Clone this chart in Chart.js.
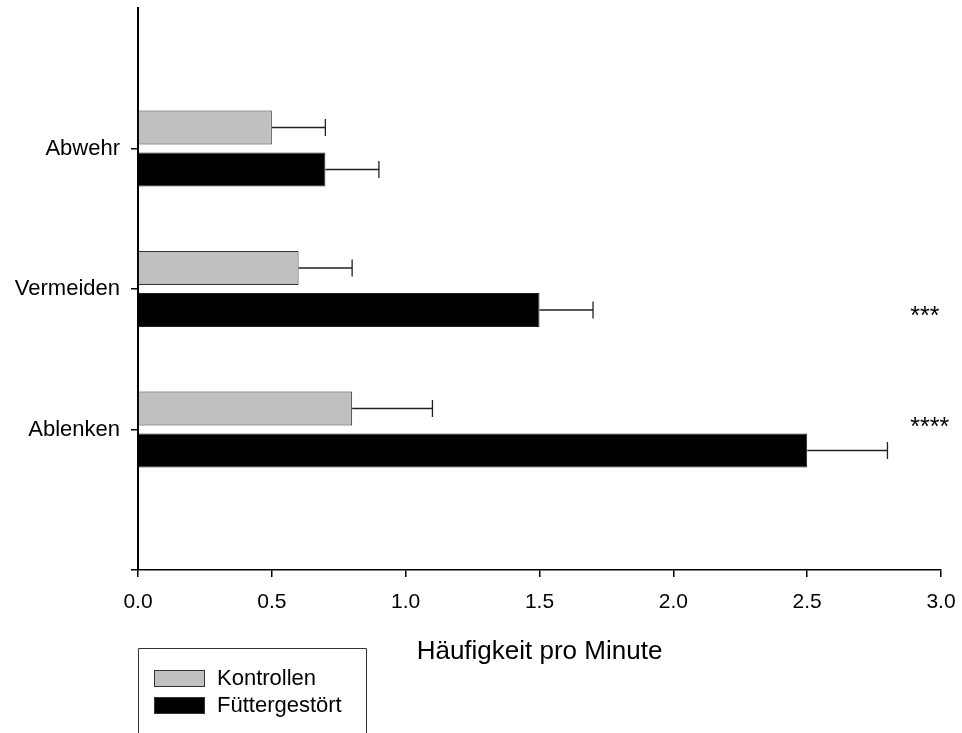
<!DOCTYPE html>
<html>
<head>
<meta charset="utf-8">
<script src="https://cdn.jsdelivr.net/npm/chart.js@4.4.1/dist/chart.umd.min.js"></script>
<style>
  html, body { margin: 0; padding: 0; background: #fff; }
  #wrap { width: 962px; height: 733px; position: relative; }
</style>
</head>
<body>
<div id="wrap"><canvas id="c"></canvas></div>
<script>
// ---- data ----
const categories = ['Abwehr', 'Vermeiden', 'Ablenken'];
const seriesNames = ['Kontrollen', 'Füttergestört'];
const kontrollen = [0.5, 0.6, 0.8];
const kontrollenErr = [0.2, 0.2, 0.3];
const fuettergestoert = [0.7, 1.5, 2.5];
const fuettergestoertErr = [0.2, 0.2, 0.3];
const significance = ['', '***', '****'];
const xTicks = [0.0, 0.5, 1.0, 1.5, 2.0, 2.5, 3.0];
const xTitle = 'Häufigkeit pro Minute';

// padded category list so categories sit at quarter positions of the axis
const labels = [''].concat(categories, ['']);
const pad = arr => [null].concat(arr, [null]);

const FONT = "'Liberation Sans', Arial, Helvetica, sans-serif";

const errorBars = {
  id: 'errorBars',
  afterDatasetsDraw(chart) {
    const ctx = chart.ctx;
    const xs = chart.scales.x;
    chart.data.datasets.forEach((ds, i) => {
      const meta = chart.getDatasetMeta(i);
      meta.data.forEach((el, j) => {
        const v = ds.data[j];
        const e = ds.errors[j];
        if (v == null || e == null) return;
        const x0 = xs.getPixelForValue(v);
        const x1 = xs.getPixelForValue(v + e);
        const y = el.y;
        ctx.save();
        ctx.strokeStyle = '#222';
        ctx.lineWidth = 1.3;
        ctx.beginPath();
        ctx.moveTo(x0, y); ctx.lineTo(x1, y);
        ctx.moveTo(x1, y - 8.5); ctx.lineTo(x1, y + 8.5);
        ctx.stroke();
        ctx.restore();
      });
    });
  }
};

const extras = {
  id: 'extras',
  afterDraw(chart) {
    const ctx = chart.ctx;
    const xs = chart.scales.x;
    const ys = chart.scales.y;
    // significance stars
    const yOff = [0, 24, -6];
    ctx.save();
    ctx.fillStyle = '#000';
    ctx.font = '25px ' + FONT;
    ctx.textAlign = 'left';
    ctx.textBaseline = 'alphabetic';
    significance.forEach((s, i) => {
      if (!s) return;
      const y = ys.getPixelForValue(i + 1) + yOff[i];
      ctx.fillText(s, xs.getPixelForValue(2.885), y + 11);
    });
    ctx.restore();

    // legend box (open at bottom)
    ctx.save();
    ctx.strokeStyle = '#333';
    ctx.lineWidth = 1;
    ctx.beginPath();
    ctx.moveTo(138.5, 740); ctx.lineTo(138.5, 648.5);
    ctx.lineTo(366.5, 648.5); ctx.lineTo(366.5, 740);
    ctx.stroke();
    ctx.font = '22px ' + FONT;
    ctx.textAlign = 'left';
    ctx.textBaseline = 'middle';
    chart.data.datasets.forEach((ds, i) => {
      const top = 670.5 + i * 27;
      ctx.fillStyle = ds.backgroundColor;
      ctx.fillRect(154.5, top, 50, 16);
      ctx.strokeStyle = '#333';
      ctx.strokeRect(154.5, top, 50, 16);
      ctx.fillStyle = '#000';
      ctx.fillText(ds.label, 217, top + 8);
    });
    ctx.restore();
  }
};

new Chart(document.getElementById('c'), {
  type: 'bar',
  data: {
    labels: labels,
    datasets: [
      {
        label: seriesNames[0],
        data: pad(kontrollen),
        errors: pad(kontrollenErr),
        backgroundColor: '#c0c0c0',
        borderColor: '#333',
        borderWidth: 1,
        categoryPercentage: 0.598,
        barPercentage: 0.81
      },
      {
        label: seriesNames[1],
        data: pad(fuettergestoert),
        errors: pad(fuettergestoertErr),
        backgroundColor: '#000',
        borderColor: '#222',
        borderWidth: 1,
        categoryPercentage: 0.598,
        barPercentage: 0.81
      }
    ]
  },
  options: {
    indexAxis: 'y',
    responsive: true,
    maintainAspectRatio: false,
    animation: false,
    layout: { padding: { top: 8, right: 21, left: 0, bottom: 0 } },
    plugins: {
      legend: { display: false },
      tooltip: { enabled: false }
    },
    scales: {
      x: {
        type: 'linear',
        min: 0,
        max: 3,
        afterFit: s => { s.height = 163; s.paddingLeft = 0; s.paddingRight = 0; },
        afterBuildTicks: s => { s.ticks = xTicks.map(v => ({ value: v })); },
        ticks: {
          callback: v => Number(v).toFixed(1),
          color: '#000',
          font: { family: FONT, size: 21 },
          padding: 13,
          maxRotation: 0
        },
        grid: {
          drawOnChartArea: false,
          drawTicks: true,
          tickLength: 7,
          color: '#000',
          lineWidth: 1.5
        },
        border: { display: true, color: '#000', width: 1.5 },
        title: {
          display: true,
          text: xTitle,
          color: '#000',
          font: { family: FONT, size: 26 },
          padding: { top: 0, bottom: 66 }
        }
      },
      y: {
        type: 'category',
        offset: false,
        afterFit: s => { s.width = 138; s.paddingTop = 0; s.paddingBottom = 0; },
        ticks: {
          color: '#000',
          font: { family: FONT, size: 22 },
          padding: 11
        },
        grid: {
          offset: false,
          drawOnChartArea: false,
          drawTicks: true,
          tickLength: 7,
          color: c => (c.index === 0 ? 'rgba(0,0,0,0)' : '#000'),
          lineWidth: 1.5
        },
        border: { display: true, color: '#000', width: 2 }
      }
    }
  },
  plugins: [errorBars, extras]
});
</script>
</body>
</html>
